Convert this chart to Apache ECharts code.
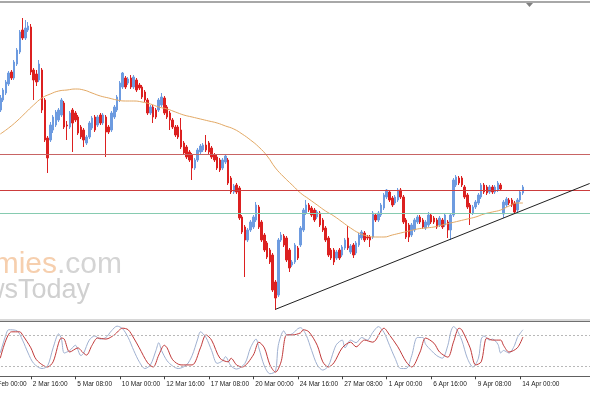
<!DOCTYPE html>
<html><head><meta charset="utf-8">
<script src="https://cdn.jsdelivr.net/npm/echarts@6/dist/echarts.min.js"></script>
<style>html,body{margin:0;padding:0;background:#fff}#c{width:590px;height:393px}</style>
</head><body><div id="c"></div>
<script>
// H4 bars, price in chart units
const opens = [220,230,237,246,258,252,266,278,300,292,300,303,260,256,250,260,230,192,190,200,205,210,215,227,205,203,220,217,213,203,200,187,193,202,213,205,215,207,213,203,200,213,220,230,243,252,247,252,243,250,245,243,238,230,217,223,220,220,225,232,223,217,210,203,203,200,187,183,178,175,162,170,178,180,185,187,182,175,173,170,162,168,170,152,138,145,142,113,103,90,100,103,110,123,108,95,87,80,75,48,35,90,94,92,80,65,68,82,85,100,117,125,122,120,113,117,110,102,92,80,80,72,80,75,82,92,78,85,77,85,92,97,93,93,93,115,110,115,122,133,138,132,127,130,140,133,110,105,95,100,108,113,110,102,105,115,112,110,105,110,105,108,100,115,145,152,152,143,135,125,117,123,127,133,145,143,138,143,138,140,145,116,125,130,130,127,120,130,137];
const closes = [232,240,248,257,252,268,280,298,292,302,304,258,250,248,266,220,190,172,205,213,218,220,230,203,204,217,207,210,197,193,190,193,207,212,200,213,207,215,198,198,217,223,233,247,257,243,251,243,253,240,242,233,230,217,223,213,213,230,233,217,213,210,203,195,193,183,177,173,170,162,170,180,184,185,180,178,173,170,162,160,170,174,147,138,144,138,112,98,90,100,108,113,125,103,90,80,73,68,40,32,90,95,85,70,62,68,85,72,102,120,125,120,115,110,118,105,100,90,75,72,68,78,72,83,90,82,84,75,87,95,98,90,92,90,117,110,117,125,135,140,130,125,133,140,133,108,93,93,105,110,113,108,103,108,115,108,108,103,112,103,115,100,115,150,153,147,145,133,123,117,123,128,135,145,138,137,143,138,143,147,141,128,131,127,125,118,130,138,143];
const lows = [218,228,235,244,250,250,264,276,290,290,298,255,230,244,248,217,188,157,188,197,203,208,213,201,190,201,178,208,195,191,183,185,191,200,198,203,205,205,173,196,198,211,218,228,241,241,245,241,241,238,240,231,228,215,215,207,211,218,223,215,211,200,201,193,191,181,175,171,168,150,160,168,176,178,178,176,171,168,160,158,160,166,145,136,136,136,110,96,53,88,98,101,108,101,88,78,71,66,38,20,33,88,83,68,58,63,66,70,83,98,115,118,113,108,111,103,98,88,73,70,65,70,70,73,80,80,76,72,75,83,90,88,90,83,91,108,108,113,120,131,128,123,125,128,131,106,91,88,93,98,106,106,101,100,103,106,106,101,103,101,103,92,90,113,143,145,143,131,121,105,115,121,125,131,136,135,136,136,136,138,139,112,123,125,123,116,118,128,135];
const highs = [235,242,250,259,260,270,282,300,312,310,308,306,262,260,270,262,232,194,208,215,220,222,232,229,209,219,222,219,215,205,202,195,209,214,215,215,217,217,215,205,219,225,235,249,258,254,253,255,255,252,247,245,240,232,225,225,222,232,237,234,225,219,212,205,205,212,189,185,180,177,172,182,186,187,195,189,184,177,175,172,172,176,172,154,146,147,144,115,105,102,110,115,128,125,110,97,89,82,77,50,92,98,96,94,82,70,87,84,104,122,130,127,124,122,120,119,112,104,94,82,82,80,82,85,92,104,86,87,89,97,100,99,95,95,119,117,119,127,137,141,140,134,135,142,142,135,112,107,107,112,115,115,112,110,118,117,114,112,114,112,117,110,117,152,155,154,154,145,137,127,125,130,137,147,147,145,145,145,145,149,147,130,133,132,132,129,132,140,145];
// 50-period moving average: [barIndex, value]
const maPoints = [[0,196],[3,202],[6,209],[9,217],[12,225],[15,232],[18,236],[21,239],[24,240],[27,241],[30,240],[33,237],[36,234],[39,232],[42,230],[45,229],[48,229],[51,228],[54,226],[57,223],[60,221],[63,218],[66,215],[69,213],[72,211],[75,209],[78,207],[81,204],[84,201],[87,196],[90,190],[93,183],[96,174],[99,162],[102,153],[105,145],[108,137],[111,131],[114,125],[117,119],[120,114],[123,108],[126,102],[129,97],[132,94],[135,93],[138,93],[141,95],[144,97],[147,99],[150,101],[153,102],[156,103],[159,105],[162,107],[165,109],[168,111],[171,113],[174,116],[177,118],[180,120],[183,124],[186,127],[188,127]];
// Stochastic %K and %D: [barIndex, value]
const stochK = [[0,45],[2,80],[3,90],[6,88],[8,70],[10,45],[12,25],[15,15],[17,20],[19,55],[21,82],[22,72],[23,45],[25,50],[27,60],[29,40],[30,45],[32,70],[34,78],[36,72],[38,75],[40,88],[42,97],[44,92],[46,75],[48,50],[50,28],[52,15],[54,22],[56,50],[57,65],[58,50],[60,30],[62,20],[64,15],[67,22],[69,40],[71,72],[72,86],[74,75],[76,50],[78,25],[80,30],[81,38],[83,20],[85,14],[88,25],[90,55],[92,72],[93,55],[95,20],[97,5],[99,10],[100,60],[102,88],[103,80],[105,82],[107,92],[108,94],[110,80],[112,50],[114,22],[116,12],[118,20],[120,50],[121,62],[123,70],[124,55],[126,70],[128,65],[130,75],[132,70],[134,85],[136,96],[138,85],[140,60],[142,35],[144,15],[146,15],[148,40],[150,75],[152,75],[153,62],[155,50],[157,40],[159,35],[161,60],[162,85],[163,96],[164,92],[166,70],[168,35],[170,18],[172,35],[173,72],[174,78],[176,70],[177,72],[179,62],[180,45],[181,50],[183,45],[185,60],[186,75],[188,90]];
const stochD = [[0,35],[4,86],[7,86],[8,80],[11,55],[13,32],[17,18],[19,28],[22,74],[23,72],[25,47],[28,55],[29,50],[31,41],[33,60],[35,74],[38,72],[41,80],[44,93],[46,90],[48,74],[50,55],[53,26],[55,18],[57,41],[59,60],[60,55],[62,32],[65,22],[69,22],[72,55],[74,80],[76,70],[79,35],[82,28],[83,35],[85,22],[87,18],[91,41],[93,66],[95,55],[97,22],[99,8],[101,28],[103,80],[105,80],[108,84],[109,90],[111,86],[114,60],[116,28],[118,18],[120,26],[123,55],[126,66],[128,57],[131,70],[134,66],[138,93],[140,80],[143,57],[146,28],[148,18],[151,47],[153,74],[156,64],[158,47],[161,37],[163,66],[165,93],[166,90],[169,55],[171,22],[173,28],[175,74],[177,70],[180,70],[181,60],[183,47],[186,55],[188,76]];
const stochLevels = [20, 80];
const hLines = [175.5, 140, 116.7];
const trendLine = [[99, 20.7], [212, 146.5]];
const tickLabels = ['26 Feb 00:00','2 Mar 16:00','5 Mar 08:00','10 Mar 00:00','12 Mar 16:00','17 Mar 08:00','20 Mar 00:00','24 Mar 16:00','27 Mar 08:00','1 Apr 00:00','6 Apr 16:00','9 Apr 08:00','14 Apr 00:00'];
const tickFirstBar = -5, tickStep = 16;

const PAD = 5, N = 218;
const cats = [];
for (let j = 0; j < N; j++) cats.push('c' + j);
const candle = [];
for (let j = 0; j < N; j++) {
  const i = j - PAD;
  if (i >= 0 && i < opens.length) candle.push([opens[i], closes[i], lows[i], highs[i]]);
  else candle.push('-');
}
const sh = p => [p[0] + PAD, p[1]];
const isTick = j => { const i = j - PAD - tickFirstBar; return i % tickStep === 0 && i / tickStep < tickLabels.length; };

const chart = echarts.init(document.getElementById('c'), null, {renderer: 'canvas'});
const gridW = N * 2.78;
chart.setOption({
  animation: false,
  backgroundColor: '#ffffff',
  grid: [
    {left: -15, width: gridW, top: 4, height: 314, outerBoundsMode: 'none', containLabel: false},
    {left: -15, width: gridW, top: 322, height: 55, outerBoundsMode: 'none', containLabel: false}
  ],
  xAxis: [
    {type: 'category', gridIndex: 0, data: cats, boundaryGap: true, show: false},
    {type: 'category', gridIndex: 1, data: cats, boundaryGap: true,
     axisLine: {show: true, lineStyle: {color: '#606060', width: 1}},
     axisTick: {show: true, alignWithLabel: true, length: 3, interval: (idx) => isTick(idx), lineStyle: {color: '#404040'}},
     axisLabel: {show: true, interval: (idx) => isTick(idx), formatter: (v, idx) => tickLabels[(idx - PAD - tickFirstBar) / tickStep],
       align: 'left', padding: [0,0,0,2], margin: 4, fontSize: 6.5, color: '#202020', fontFamily: 'Liberation Sans', hideOverlap: false},
     splitLine: {show: false}}
  ],
  yAxis: [
    {type: 'value', gridIndex: 0, min: 12, max: 326, show: false, splitLine: {show: false}},
    {type: 'value', gridIndex: 1, min: -1.35, max: 105, show: false, splitLine: {show: false}}
  ],
  series: [
    {type: 'candlestick', xAxisIndex: 0, yAxisIndex: 0, data: candle, barWidth: 2,
     itemStyle: {color: '#6d9be0', color0: '#dc2020', borderColor: '#6d9be0', borderColor0: '#dc2020', borderWidth: 1},
     markLine: {silent: true, symbol: ['none','none'], label: {show: false}, animation: false,
       data: [
         {yAxis: hLines[0], lineStyle: {color: '#c86464', width: 1, type: 'solid'}},
         {yAxis: hLines[1], lineStyle: {color: '#cc3c3c', width: 1, type: 'solid'}},
         {yAxis: hLines[2], lineStyle: {color: '#86cbb0', width: 1, type: 'solid'}},
         [{coord: sh(trendLine[0]), lineStyle: {color: '#202020', width: 1, type: 'solid'}}, {coord: sh(trendLine[1])}]
       ]}},
    {type: 'line', xAxisIndex: 0, yAxisIndex: 0, data: maPoints.map(sh), smooth: true, symbol: 'none',
     lineStyle: {color: '#e2a864', width: 1}},
    {type: 'line', xAxisIndex: 1, yAxisIndex: 1, data: stochK.map(sh), smooth: 0.3, symbol: 'none',
     lineStyle: {color: '#9fb0d0', width: 1},
     markLine: {silent: true, symbol: ['none','none'], label: {show: false},
       data: stochLevels.map(v => ({yAxis: v})), lineStyle: {color: '#b8b8b8', width: 1, type: [2,2]}}},
    {type: 'line', xAxisIndex: 1, yAxisIndex: 1, data: stochD.map(sh), smooth: 0.3, symbol: 'none',
     lineStyle: {color: '#c03a3a', width: 1}}
  ],
  graphic: [
    {type: 'rect', shape: {x: 0, y: 1, width: 590, height: 2}, style: {fill: '#a8a8a8'}, silent: true},
    {type: 'polygon', shape: {points: [[526,3],[533,3],[529.5,7]]}, style: {fill: '#808080'}, silent: true},
    {type: 'rect', shape: {x: 0, y: 319, width: 590, height: 3}, style: {fill: '#d8d8d8'}, silent: true},
    {type: 'line', shape: {x1: 0, y1: 321.5, x2: 590, y2: 321.5}, style: {stroke: '#707070', lineWidth: 1}, silent: true},
    {type: 'text', z: 0, silent: true, style: {x: 122, y: 250, text: '{o|Economies}{g|.com}', align: 'right', verticalAlign: 'alphabetic',
      rich: {o: {fontSize: 30, fontFamily: 'Liberation Sans', fill: '#f6cfae'}, g: {fontSize: 30, fontFamily: 'Liberation Sans', fill: '#d4d4d4'}}}},
    {type: 'text', z: 0, silent: true, style: {x: 90, y: 277, text: 'NewsToday', align: 'right', verticalAlign: 'alphabetic',
      fontSize: 27, fontFamily: 'Liberation Sans', fill: '#d0d0d0'}}
  ]
});
</script></body></html>
